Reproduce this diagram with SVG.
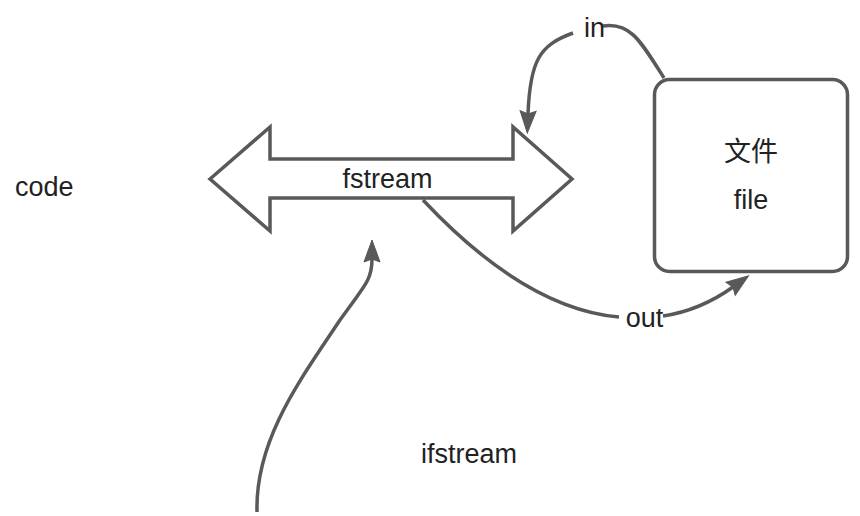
<svg xmlns="http://www.w3.org/2000/svg" width="860" height="516" viewBox="0 0 860 516">
<style>
.t{font-family:"Liberation Sans","Noto Sans CJK SC",Arial,sans-serif;font-size:27px;fill:#222}
.s{fill:#fff;stroke:#595959;stroke-width:3.5}
.c{fill:none;stroke:#595959;stroke-width:3.5}
</style>
<defs>
<marker id="ah" viewBox="0 0 22 16" refX="3" refY="8" markerWidth="22" markerHeight="16" markerUnits="userSpaceOnUse" orient="auto" overflow="visible">
<path d="M0,0 L22,8 L0,16 L3,8 Z" fill="#595959" stroke="#595959" stroke-width="1"/>
</marker>
</defs>
<rect width="860" height="516" fill="#fff"/>
<g id="code"><text class="t" x="15" y="196">code</text></g>
<g id="fstream">
<path class="s" stroke-linejoin="miter" d="M210,179 L270,127 L270,159 L513,159 L513,127 L572,179 L513,231 L513,198 L270,198 L270,231 Z"/>
<text class="t" x="387.5" y="188" text-anchor="middle">fstream</text>
</g>
<g id="file">
<rect class="s" x="654.5" y="79.5" width="193" height="192" rx="15"/>
<text class="t" x="751" y="161" text-anchor="middle">文件</text>
<text class="t" x="751" y="209" text-anchor="middle">file</text>
</g>
<g id="ifstream"><text class="t" x="469" y="463" text-anchor="middle">ifstream</text></g>
<g id="connectors">
<path class="c" d="M664,78 C640,40 630,22 603,26"/>
<path class="c" d="M573,33 C540,45 530,60 528,114" marker-end="url(#ah)"/>
<text class="t" x="594.5" y="37" text-anchor="middle">in</text>
<path class="c" d="M423,200 C470,250 540,310 619,317"/>
<path class="c" d="M663,316 C690,312 712,302 733,287" marker-end="url(#ah)"/>
<text class="t" x="644.5" y="327" text-anchor="middle">out</text>
<path class="c" d="M257,512 C255,440 300,380 340,320 C365,285 372,280 372,259" marker-end="url(#ah)"/>
</g>
</svg>
